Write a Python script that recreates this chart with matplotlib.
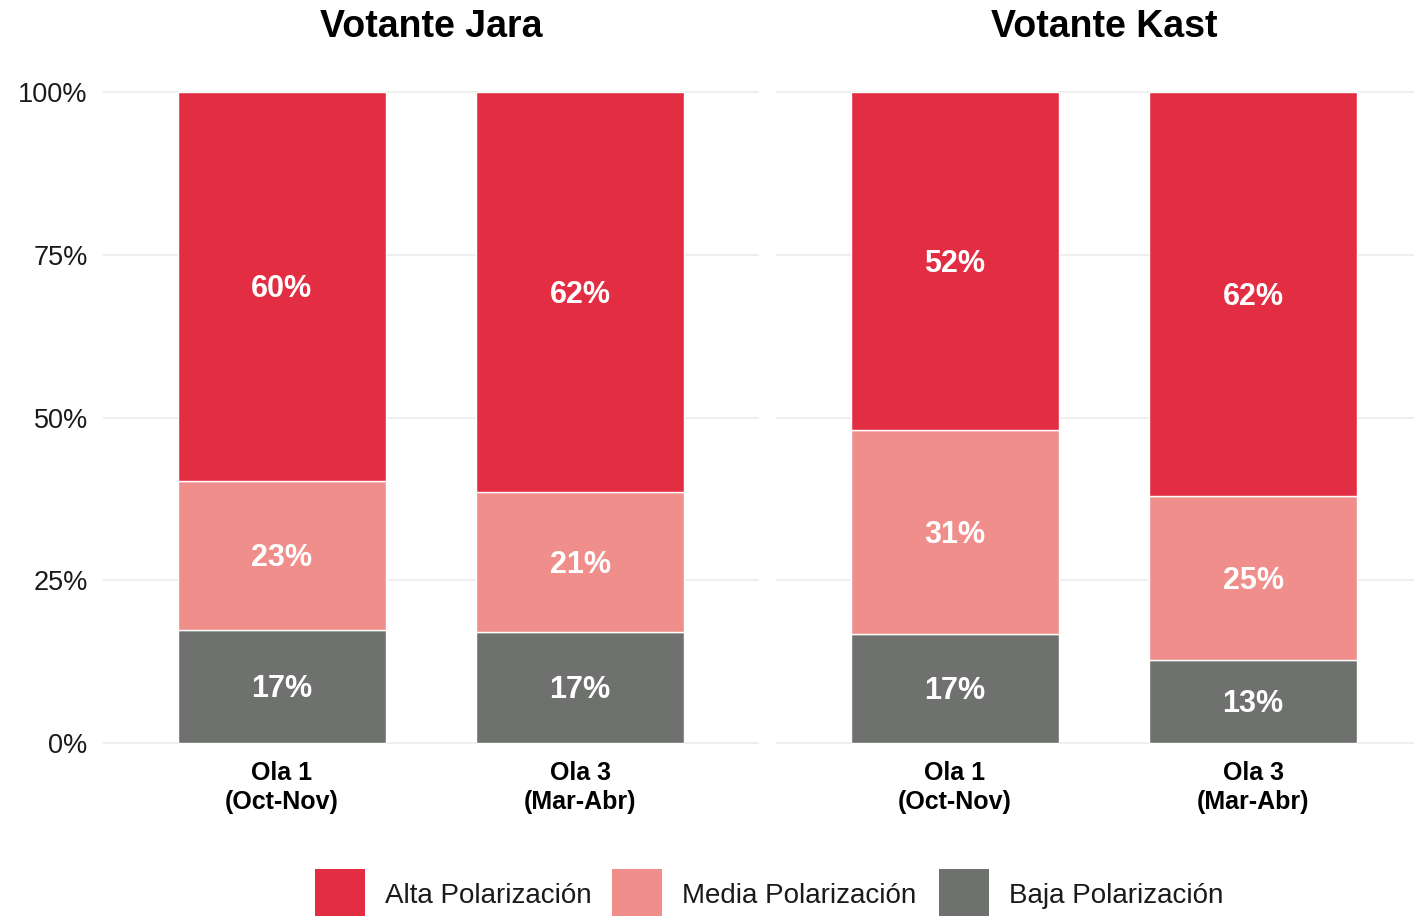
import matplotlib.pyplot as plt
from matplotlib.patches import Rectangle

plt.rcParams['font.family'] = ['Liberation Sans', 'DejaVu Sans']

#Data (percent of each group)
paneles = ['Votante Jara', 'Votante Kast']
olas = ['Ola 1\n(Oct-Nov)', 'Ola 3\n(Mar-Abr)']
niveles = ['Alta Polarización', 'Media Polarización', 'Baja Polarización']
colores = ['#E32D43', '#F08E8C', '#6E716E']

baja = {'Votante Jara': [17.4, 17.1], 'Votante Kast': [16.7, 12.7]}
media = {'Votante Jara': [22.8, 21.4], 'Votante Kast': [31.4, 25.2]}
alta = {'Votante Jara': [59.8, 61.5], 'Votante Kast': [51.9, 62.1]}

W, H = 1414, 916
fig = plt.figure(figsize=(W/100, H/100), dpi=100)

#pixel layout of the two facets
ppu = 6.51  #pixels per percent
y_bot = 743 + ppu
y_top = 92 - ppu
cat_w = 298.2
lefts = [103, 776]

x = [1, 2]
for i, panel in enumerate(paneles):
    left = lefts[i]
    full_right = left + 2.2*cat_w
    right = min(full_right, W)
    ax = fig.add_axes([left/W, (H-y_bot)/H, (right-left)/W, (y_bot-y_top)/H])
    ax.set_xlim(0.4, 0.4 + (right-left)/cat_w)
    ax.set_ylim(-1, 101)

    stacks = [baja[panel], media[panel], alta[panel]]
    cols = [colores[2], colores[1], colores[0]]
    bottom = [0, 0]
    for vals, c in zip(stacks, cols):
        bars = ax.bar(x, vals, 0.7, bottom=bottom, color=c, edgecolor='white', linewidth=1, zorder=2)
        #labels centred in each segment, nudged down a touch like the original
        mids = [b + v/2 - 0.4 for b, v in zip(bottom, vals)]
        for xi, yi, v in zip(x, mids, vals):
            ax.text(xi, yi, f'{v:.0f}%', ha='center', va='center', color='white',
                    fontsize=22, fontweight='bold', zorder=3)
        bottom = [b + v for b, v in zip(bottom, vals)]

    ax.set_yticks([0, 25, 50, 75, 100])
    ax.yaxis.grid(True, color='#EBEBEB', linewidth=1.2, zorder=0)
    ax.set_axisbelow(True)
    if i == 0:
        ax.set_yticklabels(['0%', '25%', '50%', '75%', '100%'], fontsize=19.5, color='#1a1a1a')
    else:
        ax.set_yticklabels([])
    ax.set_xticks(x)
    ax.set_xticklabels(olas, fontsize=18, fontweight='bold', color='black', linespacing=1.3)
    ax.tick_params(length=0, pad=8)
    ax.tick_params(axis='y', pad=11)
    for s in ax.spines.values():
        s.set_visible(False)

    #facet title centred over the full panel width
    fig.text((left + full_right)/2/W, (H-27)/H, panel, fontsize=27, fontweight='bold',
             ha='center', va='center', color='black')

#Legend drawn by hand at the bottom (partly cropped like the reference)
key_x = [315, 612, 939]
for k, nivel in enumerate(niveles):
    fig.add_artist(Rectangle((key_x[k]/W, (H-919)/H), 50/W, 50/H, transform=fig.transFigure,
                             facecolor=colores[k], edgecolor='none'))
    fig.text((key_x[k]+70)/W, (H-896)/H, nivel, fontsize=20, va='center', ha='left', color='#1a1a1a')

plt.savefig('out.png', dpi=100)
